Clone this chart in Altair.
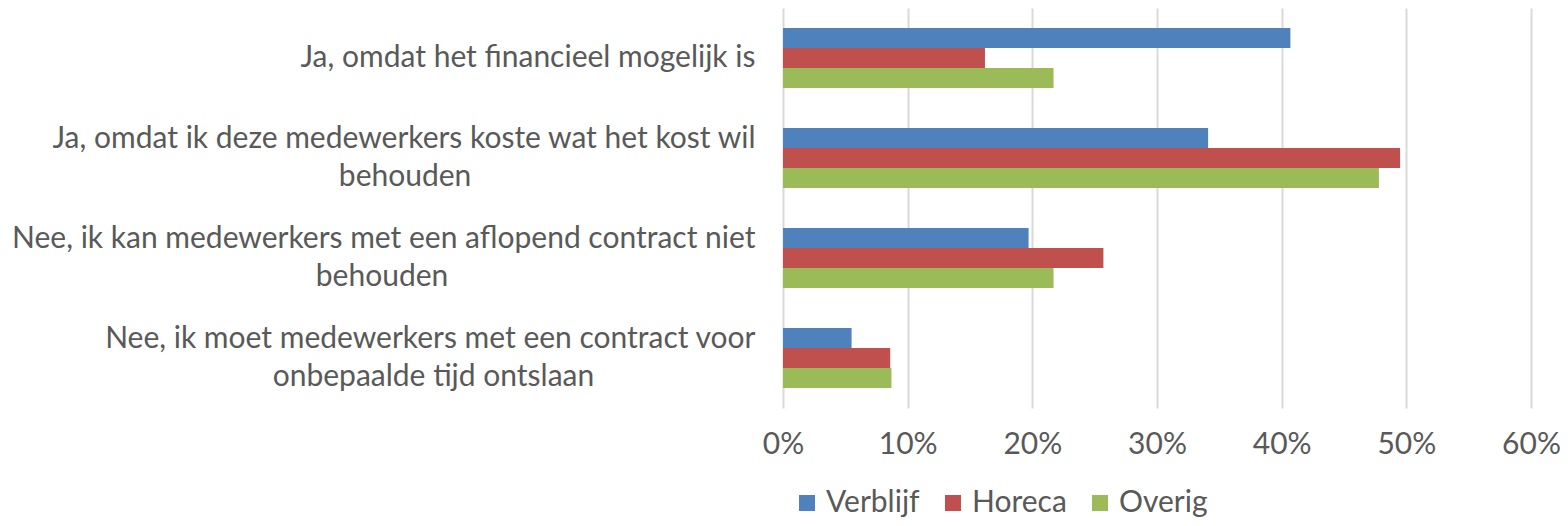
import altair as alt
import pandas as pd

categories = [
    "Ja, omdat het financieel mogelijk is",
    "Ja, omdat ik deze medewerkers koste wat het kost wil behouden",
    "Nee, ik kan medewerkers met een aflopend contract niet behouden",
    "Nee, ik moet medewerkers met een contract voor onbepaalde tijd ontslaan",
]
label_lines = [
    ["Ja, omdat het financieel mogelijk is"],
    ["Ja, omdat ik deze medewerkers koste wat het kost wil", "behouden"],
    ["Nee, ik kan medewerkers met een aflopend contract niet", "behouden"],
    ["Nee, ik moet medewerkers met een contract voor", "onbepaalde tijd ontslaan"],
]
series = ["Verblijf", "Horeca", "Overig"]
verblijf = [0.407, 0.341, 0.197, 0.055]
horeca = [0.162, 0.495, 0.257, 0.086]
overig = [0.217, 0.478, 0.217, 0.087]
colors = ["#4F81BD", "#C0504D", "#9BBB59"]
x_ticks = [0, 0.1, 0.2, 0.3, 0.4, 0.5, 0.6]

# styling: trailing no-break spaces that centre the wrapped second line
second_line_pad = [0, 37, 40, 21]

rows = []
for i, c in enumerate(categories):
    for s, vals in zip(series, [verblijf, horeca, overig]):
        rows.append({"categorie": c, "reeks": s, "waarde": vals[i]})
df = pd.DataFrame(rows)

NBSP = "\u00a0"
WJ = "\u2060"  # word joiner keeps the padding from hanging at line end
expr = "datum.value"
for c, lines, pad in reversed(list(zip(categories, label_lines, second_line_pad))):
    shown = [lines[0]] + [l + NBSP * pad + WJ for l in lines[1:]]
    arr = "[" + ", ".join("'" + l + "'" for l in shown) + "]"
    expr = f"datum.value == '{c}' ? {arr} : ({expr})"

multi = [c for c, lines in zip(categories, label_lines) if len(lines) > 1]
multi_test = " || ".join(f"datum.value == '{c}'" for c in multi)

TXT = "#595959"
FS = 30

chart = (
    alt.Chart(df)
    .mark_bar()
    .encode(
        x=alt.X(
            "waarde:Q",
            scale=alt.Scale(domain=[0, 0.6], nice=False),
            axis=alt.Axis(
                format=".0%", values=x_ticks, title=None, grid=True,
                gridColor="#d9d9d9", gridWidth=2, domain=False, ticks=False,
                labelPadding=21, labelFontSize=FS, labelColor=TXT,
                labelFlush=False,
            ),
        ),
        y=alt.Y(
            "categorie:N", sort=categories,
            scale=alt.Scale(paddingInner=0.4, paddingOuter=0.2),
            axis=alt.Axis(
                title=None, domain=False, ticks=False, grid=False,
                labelExpr=expr, labelLimit=1000, labelPadding=28,
                labelLineHeight=38, labelFontSize=FS, labelColor=TXT,
                labelBaseline={"condition": {"test": multi_test, "value": "line-bottom"},
                               "value": "middle"},
            ),
        ),
        yOffset=alt.YOffset("reeks:N", sort=series,
                            scale=alt.Scale(paddingInner=0, paddingOuter=0)),
        color=alt.Color(
            "reeks:N", sort=series,
            scale=alt.Scale(domain=series, range=colors),
            legend=alt.Legend(
                orient="none", legendX=9, legendY=480, direction="horizontal",
                title=None, symbolType="square", symbolSize=256,
                labelFontSize=FS, labelColor=TXT, columnPadding=18,
                labelOffset=4, symbolStrokeWidth=0,
            ),
        ),
    )
    .properties(
        width=748, height=400,
        padding={"left": 775, "top": 0, "right": 29, "bottom": 110},
        autosize=alt.AutoSizeParams(type="none"),
    )
    .configure(font="Lato")
    .configure_view(strokeWidth=0)
)

chart.save("out.html", embed_options={"renderer": "svg", "actions": False})
